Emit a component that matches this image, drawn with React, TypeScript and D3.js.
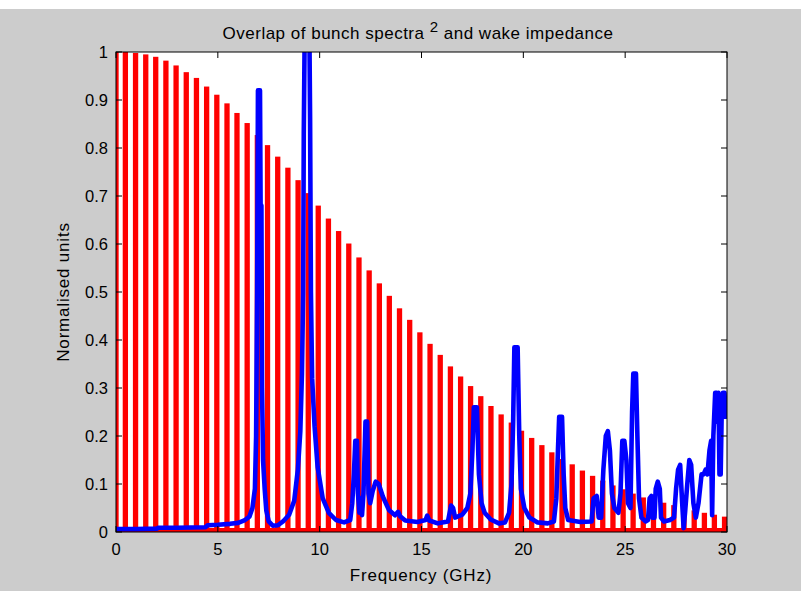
import React from "react";
import * as d3 from "d3";

// Red comb: frequency (GHz) and normalised |spectrum|^2
const barFreq = [
  0, 0.46, 0.96, 1.46, 1.95, 2.45, 2.95, 3.45, 3.95, 4.45, 4.95, 5.45, 5.94, 6.44, 6.94,
  7.44, 7.94, 8.44, 8.94, 9.44, 9.93, 10.43, 10.93, 11.43, 11.93, 12.43, 12.93, 13.42, 13.92,
  14.42, 14.92, 15.42, 15.92, 16.42, 16.92, 17.41, 17.91, 18.41, 18.91, 19.41, 19.91, 20.41,
  20.91, 21.4, 21.9, 22.4, 22.9, 23.4, 23.9, 24.4, 24.9, 25.39, 25.89, 26.39, 26.89, 27.39,
  27.89, 28.39, 28.89, 29.38, 29.88,
];
const barValue = [
  1.0, 1.0, 0.998, 0.995, 0.99, 0.982, 0.972, 0.958, 0.946, 0.928, 0.911, 0.893, 0.873, 0.852,
  0.827, 0.806, 0.782, 0.759, 0.733, 0.706, 0.68, 0.653, 0.627, 0.601, 0.572, 0.545, 0.518,
  0.492, 0.466, 0.442, 0.416, 0.392, 0.369, 0.345, 0.324, 0.304, 0.283, 0.2625, 0.245, 0.228,
  0.211, 0.196, 0.181, 0.166, 0.152, 0.141, 0.128, 0.117, 0.107, 0.097, 0.089, 0.08, 0.072,
  0.066, 0.061, 0.056, 0.05, 0.045, 0.04, 0.036, 0.032,
];

// Blue wake impedance trace
const wakeFreq = [
  0, 1.0, 2.0, 2.1, 3.0, 4.4, 4.5, 5.0, 5.6, 6.0, 6.3, 6.55, 6.7, 6.82, 6.88, 6.93, 6.97, 7.07,
  7.1, 7.14, 7.17, 7.22, 7.3, 7.38, 7.5, 7.7, 7.95, 8.2, 8.5, 8.75, 8.93, 9.05, 9.13, 9.19, 9.22,
  9.26, 9.5, 9.53, 9.57, 9.63, 9.75, 9.9, 10.15, 10.45, 10.8, 11.2, 11.5, 11.6, 11.68, 11.75,
  11.83, 11.88, 11.95, 12.02, 12.08, 12.15, 12.25, 12.33, 12.4, 12.48, 12.6, 12.75, 12.9, 13.1,
  13.4, 13.7, 13.85, 13.95, 14.2, 14.8, 15.2, 15.28, 15.38, 15.8, 16.3, 16.45, 16.55, 16.65,
  17.0, 17.25, 17.4, 17.5, 17.57, 17.72, 17.82, 17.95, 18.1, 18.4, 18.8, 19.1, 19.3, 19.42,
  19.5, 19.56, 19.72, 19.8, 19.88, 20.05, 20.3, 20.7, 21.2, 21.5, 21.62, 21.7, 21.76, 21.9,
  21.98, 22.06, 22.2, 22.8, 23.35, 23.45, 23.6, 23.7, 23.82, 23.93, 24.05, 24.15, 24.25, 24.35,
  24.47, 24.67, 24.77, 24.86, 24.96, 25.06, 25.14, 25.26, 25.34, 25.4, 25.53, 25.6, 25.68, 25.8,
  26.0, 26.12, 26.2, 26.29, 26.34, 26.44, 26.5, 26.6, 26.7, 26.76, 26.9, 27.2, 27.4, 27.5, 27.6,
  27.7, 27.8, 27.87, 27.94, 28.05, 28.15, 28.24, 28.35, 28.47, 28.6, 28.75, 28.85, 28.95, 29.04,
  29.14, 29.22, 29.27, 29.33, 29.42, 29.5, 29.54, 29.58, 29.63, 29.69, 29.74, 29.8, 29.88, 29.93,
  30.0,
];
const wakeValue = [
  0.006, 0.006, 0.007, 0.009, 0.009, 0.01, 0.014, 0.015, 0.017, 0.019, 0.024, 0.032, 0.05, 0.09,
  0.2, 0.5, 0.92, 0.92, 0.68, 0.68, 0.3, 0.15, 0.09, 0.045, 0.022, 0.013, 0.014, 0.022, 0.036,
  0.065, 0.13, 0.21, 0.33, 0.5, 0.83, 1.02, 1.02, 0.86, 0.5, 0.32, 0.22, 0.135, 0.07, 0.04,
  0.025, 0.02, 0.025, 0.06, 0.12, 0.19, 0.19, 0.08, 0.04, 0.07, 0.035, 0.08, 0.23, 0.23, 0.08,
  0.06, 0.085, 0.105, 0.1, 0.074, 0.046, 0.035, 0.042, 0.033, 0.024, 0.021, 0.025, 0.034, 0.024,
  0.018, 0.022, 0.055, 0.05, 0.03, 0.036, 0.05, 0.08, 0.17, 0.26, 0.26, 0.12, 0.06, 0.04, 0.026,
  0.018, 0.02, 0.04, 0.1, 0.23, 0.385, 0.385, 0.2, 0.09, 0.05, 0.03, 0.02, 0.018, 0.022, 0.07,
  0.17, 0.24, 0.24, 0.12, 0.05, 0.025, 0.021, 0.022, 0.07, 0.075, 0.03, 0.03, 0.13, 0.2, 0.21,
  0.17, 0.08, 0.05, 0.04, 0.08, 0.19, 0.19, 0.15, 0.06, 0.05, 0.25, 0.33, 0.33, 0.2, 0.07, 0.03,
  0.022, 0.025, 0.07, 0.075, 0.03, 0.03, 0.09, 0.105, 0.09, 0.03, 0.022, 0.025, 0.03, 0.09, 0.13,
  0.14, 0.06, 0.008, 0.04, 0.1, 0.15, 0.14, 0.06, 0.03, 0.06, 0.12, 0.12, 0.13, 0.12, 0.17, 0.19,
  0.035, 0.2, 0.29, 0.29, 0.23, 0.29, 0.12, 0.12, 0.25, 0.29, 0.29, 0.24, 0.28,
];

const xTicks = [0, 5, 10, 15, 20, 25, 30];
const yTicks = [0, 0.1, 0.2, 0.3, 0.4, 0.5, 0.6, 0.7, 0.8, 0.9, 1];
const yTickLabels = ["0", "0.1", "0.2", "0.3", "0.4", "0.5", "0.6", "0.7", "0.8", "0.9", "1"];

const W = 801;
const H = 591;
const L = 116, R = 727, T = 52, B = 532;
const FONT = "'Liberation Sans', Arial, Helvetica, sans-serif";

export default function App() {
  const x = d3.scaleLinear().domain([0, 30]).range([L, R]);
  const y = d3.scaleLinear().domain([0, 1]).range([B, T]);
  const barW = 5.3;
  const tickLen = 6;

  const wakeData = wakeFreq.map((f, i) => [f, wakeValue[i]] as [number, number]);
  const line = d3
    .line<[number, number]>()
    .x((d) => x(d[0]))
    .y((d) => y(d[1]));

  return (
    <svg
      width={W}
      height={H}
      style={{ position: "absolute", left: 0, top: 0, display: "block" }}
      fontFamily={FONT}
    >
      <rect x={0} y={0} width={W} height={H} fill="#ffffff" />
      <rect x={0} y={9} width={W} height={H - 9} fill="#cccccc" />
      <defs>
        <clipPath id="plotClip">
          <rect x={L} y={T} width={R - L} height={B - T} />
        </clipPath>
      </defs>
      <rect x={L} y={T} width={R - L} height={B - T} fill="#ffffff" />
      <g clipPath="url(#plotClip)">
        <rect x={L} y={y(0) - 4} width={R - L} height={4} fill="#ff0000" />
        {barFreq.map((f, i) => (
          <rect
            key={i}
            x={x(f) - barW / 2}
            y={y(barValue[i])}
            width={barW}
            height={y(0) - y(barValue[i])}
            fill="#ff0000"
          />
        ))}
        <path
          d={line(wakeData) || ""}
          fill="none"
          stroke="#0000ff"
          strokeWidth={4.6}
          strokeLinejoin="round"
        />
      </g>
      <rect x={L} y={T} width={R - L} height={B - T} fill="none" stroke="#000" strokeWidth={1} />
      {xTicks.map((t) => (
        <g key={"x" + t}>
          <line x1={x(t)} x2={x(t)} y1={B} y2={B - tickLen} stroke="#000" />
          <line x1={x(t)} x2={x(t)} y1={T} y2={T + tickLen} stroke="#000" />
          <text x={x(t)} y={B + 23} textAnchor="middle" fontSize={16.5} fill="#000">
            {t}
          </text>
        </g>
      ))}
      {yTicks.map((t, i) => (
        <g key={"y" + t}>
          <line x1={L} x2={L + tickLen} y1={y(t)} y2={y(t)} stroke="#000" />
          <line x1={R} x2={R - tickLen} y1={y(t)} y2={y(t)} stroke="#000" />
          <text x={L - 8} y={y(t) + 5.5} textAnchor="end" fontSize={16.5} fill="#000">
            {yTickLabels[i]}
          </text>
        </g>
      ))}
      <text x={421} y={581} textAnchor="middle" fontSize={17} letterSpacing={0.8} fill="#000">
        Frequency (GHz)
      </text>
      <text
        transform={`translate(69, 292) rotate(-90)`}
        textAnchor="middle"
        fontSize={17}
        letterSpacing={0.8}
        fill="#000"
      >
        Normalised units
      </text>
      <text x={418} y={39} textAnchor="middle" fontSize={17} letterSpacing={0.5} fill="#000">
        Overlap of bunch spectra <tspan dy={-7} fontSize={15}>2</tspan>
        <tspan dy={7}> and wake impedance</tspan>
      </text>
    </svg>
  );
}
